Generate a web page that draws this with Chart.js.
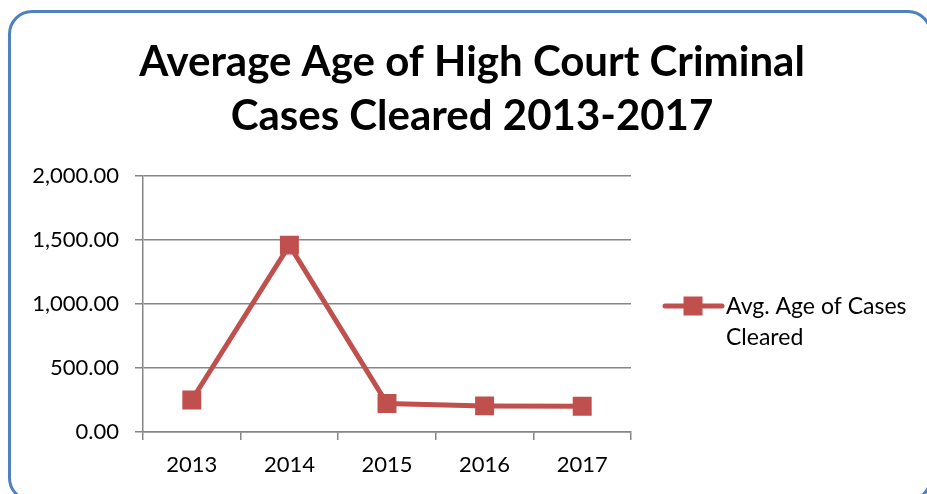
<!DOCTYPE html>
<html>
<head>
<meta charset="utf-8">
<script src="https://cdn.jsdelivr.net/npm/chart.js@4"></script>
<style>
  html, body { margin: 0; padding: 0; background: #fff; overflow: hidden; }
  #wrap { position: relative; width: 927px; height: 494px; overflow: hidden; }
  #frame {
    position: absolute; left: 8px; top: 10px; width: 924px; height: 492px;
    border: 3px solid #4F81BD; border-radius: 24px; box-sizing: border-box;
  }
  canvas { position: absolute; left: 0; top: 0; }
</style>
</head>
<body>
<div id="wrap">
  <div id="frame"></div>
  <canvas id="chart" width="927" height="494"></canvas>
</div>
<script>
"use strict";

// Chart data
var years = ['2013', '2014', '2015', '2016', '2017'];
var avgAge = [250, 1460, 222, 204, 201];
var seriesLabel = ['Avg. Age of Cases', 'Cleared'];
var titleLines = ['Average Age of High Court Criminal', 'Cases Cleared 2013-2017'];

var FONT = "Lato, 'Open Sans', sans-serif";
var RED = '#C0504D';
var GRID = '#868686';

// Title centred on the whole frame, legend on the right wrapped over two lines
var decorations = {
    id: 'decorations',
    afterDraw: function (chart) {
        var ctx = chart.ctx;
        ctx.save();

        ctx.fillStyle = '#000';
        ctx.font = 'bold 42px ' + FONT;
        ctx.textAlign = 'center';
        ctx.textBaseline = 'middle';
        titleLines.forEach(function (line, i) {
            ctx.fillText(line, 472, 62 + i * 54);
        });

        var x0 = 665, x1 = 722, y = 306;
        ctx.strokeStyle = RED;
        ctx.lineWidth = 5;
        ctx.lineCap = 'round';
        ctx.beginPath();
        ctx.moveTo(x0, y);
        ctx.lineTo(x1, y);
        ctx.stroke();
        ctx.fillStyle = RED;
        ctx.fillRect(693 - 9.5, y - 9.5, 19, 19);
        ctx.fillStyle = '#000';
        ctx.font = '23px ' + FONT;
        ctx.textAlign = 'left';
        seriesLabel.forEach(function (line, i) {
            ctx.fillText(line, 726, y + 1 + i * 31);
        });
        ctx.restore();
    }
};

var ctx = document.getElementById('chart').getContext('2d');
new Chart(ctx, {
    type: 'line',
    data: {
        labels: years,
        datasets: [{
            label: seriesLabel.join(' '),
            data: avgAge,
            borderColor: RED,
            backgroundColor: RED,
            borderWidth: 5,
            pointStyle: 'rect',
            pointRadius: 13.4,
            pointHoverRadius: 13.4,
            pointBorderWidth: 0,
            tension: 0
        }]
    },
    options: {
        responsive: false,
        animation: false,
        devicePixelRatio: 1,
        layout: { padding: { left: 0, right: 296, top: 176, bottom: 10 } },
        scales: {
            x: {
                offset: true,
                grid: {
                    offset: true,
                    drawOnChartArea: false,
                    drawTicks: true,
                    tickLength: 8,
                    color: GRID,
                    lineWidth: 1.5
                },
                border: { display: true, color: GRID, width: 1.5 },
                ticks: { color: '#000', font: { family: FONT, size: 22 }, padding: 12 },
                afterFit: function (scale) { scale.height = 52; }
            },
            y: {
                min: 0,
                max: 2000,
                grid: { color: GRID, lineWidth: 1.5, tickLength: 8 },
                border: { display: true, color: GRID, width: 1.5 },
                ticks: {
                    stepSize: 500,
                    color: '#000',
                    padding: 16,
                    font: { family: FONT, size: 22 },
                    callback: function (v) {
                        return v.toLocaleString('en-US', { minimumFractionDigits: 2, maximumFractionDigits: 2 });
                    }
                },
                afterFit: function (scale) { scale.width = 143; }
            }
        },
        plugins: {
            legend: { display: false },
            tooltip: { enabled: false },
            title: { display: false }
        }
    },
    plugins: [decorations]
});
</script>
</body>
</html>
